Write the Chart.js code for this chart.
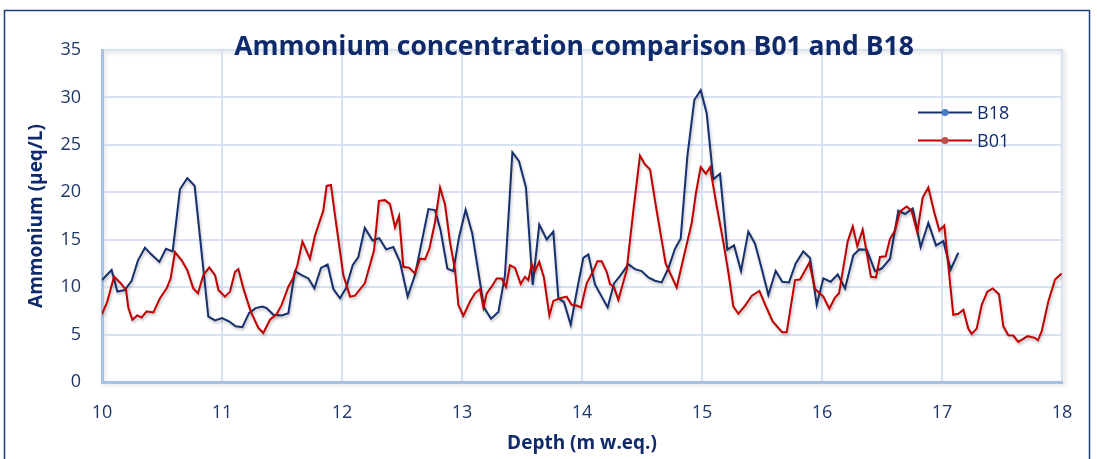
<!DOCTYPE html>
<html>
<head>
<meta charset="utf-8">
<script src="https://cdn.jsdelivr.net/npm/chart.js@4.4.1/dist/chart.umd.min.js"></script>
<style>
  html, body { margin: 0; padding: 0; background: #ffffff; }
  #wrap { width: 1097px; height: 459px; position: relative; }
</style>
</head>
<body>
<div id="wrap"><canvas id="c" width="1097" height="459"></canvas></div>
<script>
// Depth axis (m w.eq.) and ammonium concentration (µeq/L) for core B18
const b18Depth = [
  10.00, 10.08, 10.128, 10.19, 10.247, 10.30, 10.358, 10.41, 10.478, 10.533,
  10.589, 10.65, 10.711, 10.772, 10.886, 10.942, 11.00, 11.058, 11.114, 11.17,
  11.225, 11.28, 11.336, 11.372, 11.428, 11.497, 11.553, 11.608, 11.664, 11.72,
  11.77, 11.825, 11.88, 11.928, 11.983, 12.033, 12.089, 12.136, 12.19, 12.255,
  12.31, 12.367, 12.428, 12.483, 12.547, 12.608, 12.72, 12.775, 12.822, 12.878,
  12.928, 12.975, 13.03, 13.086, 13.136, 13.183, 13.242, 13.303, 13.358, 13.42,
  13.475, 13.533, 13.589, 13.644, 13.706, 13.761, 13.803, 13.85, 13.906, 13.956,
  14.011, 14.053, 14.108, 14.164, 14.214, 14.267, 14.322, 14.386, 14.442, 14.497,
  14.553, 14.608, 14.664, 14.719, 14.775, 14.822, 14.878, 14.936, 14.989, 15.039,
  15.094, 15.15, 15.211, 15.267, 15.325, 15.386, 15.442, 15.497, 15.553, 15.614,
  15.669, 15.725, 15.781, 15.844, 15.90, 15.956, 16.011, 16.072, 16.131, 16.192,
  16.261, 16.311, 16.372, 16.442, 16.497, 16.567, 16.636, 16.692, 16.756, 16.822,
  16.886, 16.95, 17.011, 17.072, 17.136
];
const b18Value = [
  10.75, 11.8, 9.53, 9.7, 10.67, 12.83, 14.16, 13.46, 12.66, 14.05,
  13.77, 20.32, 21.5, 20.67, 6.9, 6.5, 6.74, 6.4, 5.87, 5.77,
  7.26, 7.79, 7.96, 7.79, 7.09, 7.02, 7.26, 11.69, 11.27, 10.92,
  9.87, 12.03, 12.38, 9.8, 8.83, 9.87, 12.31, 13.18, 16.25, 14.92,
  15.17, 13.98, 14.23, 12.66, 9.0, 11.27, 18.23, 18.13, 15.97, 11.96,
  11.69, 15.27, 18.16, 15.62, 11.62, 7.86, 6.67, 7.37, 11.27, 24.22,
  23.28, 20.5, 10.22, 16.6, 15.03, 15.86, 8.83, 8.41, 6.04, 9.53,
  13.08, 13.46, 10.29, 9.0, 7.86, 10.4, 11.27, 12.42, 11.9, 11.69,
  11.02, 10.68, 10.5, 11.96, 14.05, 15.1, 23.8, 29.72, 30.77, 28.33,
  21.37, 21.96, 13.95, 14.4, 11.69, 15.86, 14.58, 11.96, 9.18, 11.72,
  10.57, 10.5, 12.49, 13.77, 13.08, 8.13, 10.92, 10.57, 11.34, 9.87,
  13.36, 13.98, 13.95, 11.69, 11.96, 13.0, 18.06, 17.71, 18.3, 14.23,
  16.77, 14.4, 14.85, 11.86, 13.63
];

// Depth axis (m w.eq.) and ammonium concentration (µeq/L) for core B01
const b01Depth = [
  10.00, 10.044, 10.10, 10.15, 10.20, 10.22, 10.253, 10.294, 10.33, 10.372,
  10.428, 10.483, 10.539, 10.572, 10.608, 10.664, 10.711, 10.761, 10.80, 10.844,
  10.894, 10.942, 10.97, 11.025, 11.067, 11.108, 11.136, 11.178, 11.239, 11.303,
  11.344, 11.40, 11.456, 11.497, 11.553, 11.594, 11.628, 11.67, 11.733, 11.775,
  11.844, 11.872, 11.908, 11.942, 12.011, 12.067, 12.108, 12.19, 12.267, 12.308,
  12.358, 12.40, 12.442, 12.475, 12.511, 12.561, 12.608, 12.65, 12.692, 12.728,
  12.775, 12.817, 12.858, 12.90, 12.942, 12.97, 13.011, 13.067, 13.108, 13.15,
  13.178, 13.206, 13.247, 13.289, 13.331, 13.367, 13.40, 13.442, 13.489, 13.525,
  13.553, 13.581, 13.608, 13.644, 13.683, 13.728, 13.761, 13.817, 13.872, 13.914,
  13.956, 13.992, 14.039, 14.094, 14.128, 14.164, 14.206, 14.233, 14.267, 14.303,
  14.372, 14.428, 14.483, 14.525, 14.567, 14.622, 14.697, 14.789, 14.844, 14.914,
  14.95, 14.989, 15.033, 15.067, 15.122, 15.178, 15.219, 15.261, 15.303, 15.358,
  15.414, 15.478, 15.533, 15.589, 15.669, 15.706, 15.775, 15.817, 15.894, 15.942,
  16.011, 16.061, 16.108, 16.142, 16.214, 16.256, 16.294, 16.339, 16.408, 16.45,
  16.483, 16.53, 16.567, 16.608, 16.65, 16.706, 16.747, 16.794, 16.839, 16.886,
  16.936, 16.978, 17.019, 17.094, 17.136, 17.178, 17.219, 17.247, 17.289, 17.331,
  17.378, 17.422, 17.475, 17.511, 17.553, 17.594, 17.636, 17.714, 17.775, 17.80,
  17.831, 17.886, 17.942, 17.997
];
const b01Value = [
  7.16, 8.48, 11.1, 10.5, 9.7, 7.8, 6.57, 7.02, 6.8, 7.44,
  7.33, 8.83, 9.87, 10.92, 13.7, 12.83, 11.79, 9.87, 9.35, 11.27,
  12.07, 11.27, 9.7, 9.0, 9.53, 11.6, 11.9, 9.87, 7.44, 5.7,
  5.17, 6.57, 7.16, 8.13, 10.05, 11.0, 12.31, 14.82, 13.0, 15.45,
  18.06, 20.67, 20.77, 17.53, 11.27, 9.0, 9.1, 10.4, 13.88, 19.1,
  19.17, 18.75, 16.3, 17.5, 12.14, 12.03, 11.44, 13.0, 12.94, 14.05,
  16.84, 20.5, 18.75, 14.75, 11.79, 8.13, 6.98, 8.48, 9.35, 9.8,
  7.86, 9.35, 10.05, 10.92, 10.92, 10.05, 12.31, 12.03, 10.33, 11.09,
  10.74, 12.42, 11.69, 12.66, 10.99, 7.02, 8.55, 8.83, 9.0, 8.13,
  8.06, 7.86, 10.4, 11.72, 12.73, 12.73, 11.62, 10.33, 9.98, 8.66,
  11.79, 18.06, 23.87, 22.93, 22.41, 18.06, 12.49, 9.98, 13.0, 16.73,
  19.97, 22.65, 21.96, 22.65, 18.58, 14.75, 11.62, 7.96, 7.2, 8.03,
  9.07, 9.6, 7.96, 6.39, 5.24, 5.24, 10.74, 10.81, 12.56, 9.8,
  9.0, 7.72, 8.9, 9.35, 14.82, 16.39, 14.3, 16.07, 11.09, 11.02,
  13.18, 13.25, 15.1, 15.97, 17.99, 18.5, 18.06, 15.8, 19.45, 20.5,
  17.88, 15.97, 16.5, 7.09, 7.2, 7.62, 5.63, 5.07, 5.63, 8.13,
  9.53, 9.87, 9.25, 5.87, 4.93, 4.9, 4.23, 4.83, 4.65, 4.4,
  5.35, 8.48, 10.81, 11.44
];

// Axis ticks
const depthTicks = [10, 11, 12, 13, 14, 15, 16, 17, 18];
const ammoniumTicks = [0, 5, 10, 15, 20, 25, 30, 35];

const chartTitle = 'Ammonium concentration comparison B01 and B18';
const xTitle = 'Depth (m w.eq.)';
const yTitle = 'Ammonium (µeq/L)';

const NAVY = '#0f2a6b';
const TICK = '#1f3766';
const GRID = '#d6e2f3';
const AXIS = '#a7c2e6';

function pairs(xs, ys) { return xs.map((x, i) => ({ x: x, y: ys[i] })); }

// Soft drop shadow under the series lines
const lineShadow = {
  id: 'lineShadow',
  beforeDatasetsDraw(chart) {
    const ctx = chart.ctx;
    ctx.save();
    ctx.shadowColor = 'rgba(0,0,0,0.28)';
    ctx.shadowBlur = 3;
    ctx.shadowOffsetX = 1;
    ctx.shadowOffsetY = 2;
  },
  afterDatasetsDraw(chart) { chart.ctx.restore(); }
};

// Outer frame, plot border, title and legend
const decorations = {
  id: 'decorations',
  beforeDraw(chart) {
    const ctx = chart.ctx, a = chart.chartArea;
    ctx.save();
    ctx.fillStyle = '#ffffff';
    ctx.fillRect(0, 0, chart.width, chart.height);
    // outer frame
    ctx.strokeStyle = '#1f3f7a';
    ctx.lineWidth = 1.5;
    ctx.beginPath();
    ctx.moveTo(4.5, chart.height + 5);
    ctx.lineTo(4.5, 10.5);
    ctx.lineTo(1089.5, 10.5);
    ctx.lineTo(1089.5, chart.height + 5);
    ctx.stroke();
    // plot area border with light shadow
    ctx.shadowColor = 'rgba(0,0,0,0.18)';
    ctx.shadowBlur = 4;
    ctx.shadowOffsetX = 2;
    ctx.shadowOffsetY = 2;
    ctx.strokeStyle = '#e4eaf3';
    ctx.lineWidth = 2;
    ctx.strokeRect(a.left, a.top, a.right - a.left, a.bottom - a.top);
    ctx.restore();
  },
  afterDraw(chart) {
    const ctx = chart.ctx;
    ctx.save();
    // title
    ctx.fillStyle = NAVY;
    ctx.font = 'bold 26.5px "Open Sans"';
    ctx.textAlign = 'center';
    ctx.textBaseline = 'alphabetic';
    ctx.fillText(chartTitle, 574, 55);
    // legend
    const items = [chart.data.datasets[0], chart.data.datasets[1]];
    const rows = [112.5, 140.5];
    items.forEach((ds, i) => {
      const y = rows[i];
      ctx.strokeStyle = ds.borderColor;
      ctx.lineWidth = 2;
      ctx.beginPath();
      ctx.moveTo(918, y);
      ctx.lineTo(972, y);
      ctx.stroke();
      ctx.fillStyle = ds.legendDot;
      ctx.beginPath();
      ctx.arc(945, y, 3.6, 0, Math.PI * 2);
      ctx.fill();
      ctx.fillStyle = NAVY;
      ctx.font = '18px "Open Sans"';
      ctx.textAlign = 'left';
      ctx.textBaseline = 'middle';
      ctx.fillText(ds.label, 977, y + 1);
    });
    ctx.restore();
  }
};

new Chart(document.getElementById('c'), {
  type: 'line',
  data: {
    datasets: [
      {
        label: 'B18',
        data: pairs(b18Depth, b18Value),
        borderColor: '#16306e',
        legendDot: '#4a7bc8',
        borderWidth: 2,
        pointRadius: 0,
        tension: 0,
        order: 2
      },
      {
        label: 'B01',
        data: pairs(b01Depth, b01Value),
        borderColor: '#c00000',
        legendDot: '#c0504d',
        borderWidth: 2,
        pointRadius: 0,
        tension: 0,
        order: 1
      }
    ]
  },
  options: {
    responsive: false,
    animation: false,
    events: [],
    layout: { padding: { left: 20, right: 35, top: 50, bottom: 0 } },
    plugins: {
      legend: { display: false },
      title: { display: false },
      tooltip: { enabled: false }
    },
    scales: {
      x: {
        type: 'linear',
        min: depthTicks[0],
        max: depthTicks[depthTicks.length - 1],
        afterBuildTicks(scale) { scale.ticks = depthTicks.map(v => ({ value: v })); },
        afterFit(scale) { scale.height = 77; },
        ticks: { color: TICK, font: { family: 'Open Sans', size: 18 }, padding: 20, maxRotation: 0 },
        grid: { color: GRID, lineWidth: 2, drawTicks: false },
        border: { display: true, color: AXIS, width: 3 },
        title: {
          display: true, text: xTitle, color: NAVY,
          font: { family: 'Open Sans', size: 19, weight: 'bold' },
          padding: { top: 0, bottom: 4 }
        }
      },
      y: {
        min: ammoniumTicks[0],
        max: ammoniumTicks[ammoniumTicks.length - 1],
        afterBuildTicks(scale) { scale.ticks = ammoniumTicks.map(v => ({ value: v })); },
        afterFit(scale) { scale.width = 82; },
        ticks: { color: TICK, font: { family: 'Open Sans', size: 18 }, padding: 21 },
        grid: { color: GRID, lineWidth: 2, drawTicks: false },
        border: { display: true, color: AXIS, width: 3 },
        title: {
          display: true, text: yTitle, color: NAVY,
          font: { family: 'Open Sans', size: 19, weight: 'bold' },
          padding: { top: 5, bottom: 0 }
        }
      }
    }
  },
  plugins: [decorations, lineShadow]
});
</script>
</body>
</html>
